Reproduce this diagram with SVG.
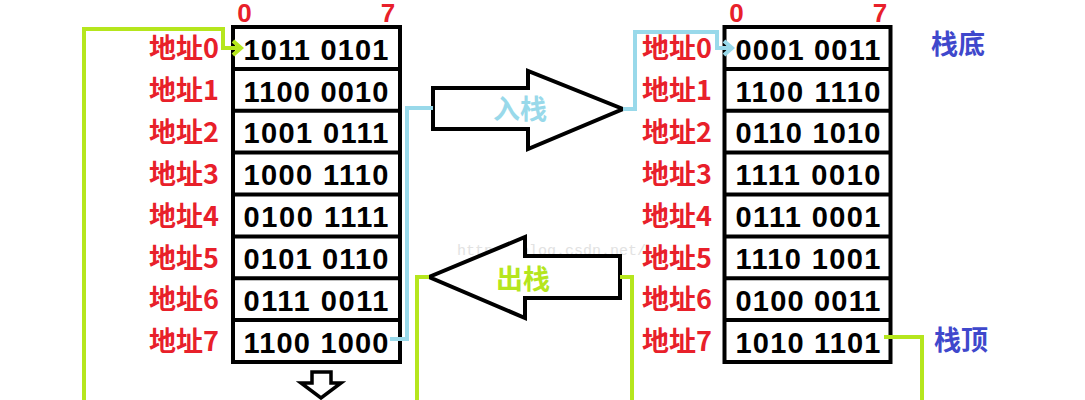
<svg xmlns="http://www.w3.org/2000/svg" width="1085" height="400" viewBox="0 0 1085 400">
<style>
.lbl{font-family:"Noto Sans CJK SC","Liberation Sans",sans-serif;font-weight:bold;font-size:27px;fill:#e8202a;text-anchor:end}
.hdr{font-family:"Liberation Sans",sans-serif;font-weight:bold;font-size:26px;fill:#e8202a;text-anchor:middle}
.val{font-family:"Liberation Sans",sans-serif;font-weight:bold;font-size:29px;fill:#000;text-anchor:middle}
.box{fill:#fff;stroke:#000;stroke-width:4}
.sep{stroke:#000;stroke-width:4}
.blue{font-family:"Noto Sans CJK SC",sans-serif;font-weight:bold;font-size:27px;fill:#3f48cc}
.arrow{fill:#fff;stroke:#000;stroke-width:4;stroke-linejoin:miter}
.cg{fill:none;stroke:#b5e61d;stroke-width:4}
.cb{fill:none;stroke:#99d9ea;stroke-width:4}
</style>
<defs>
<marker id="mg" markerWidth="13" markerHeight="18" refX="10" refY="9" orient="auto" markerUnits="userSpaceOnUse"><path d="M2,2 L10,9 L2,16" fill="none" stroke="#b5e61d" stroke-width="4"/></marker>
<marker id="mb" markerWidth="13" markerHeight="18" refX="10" refY="9" orient="auto" markerUnits="userSpaceOnUse"><path d="M2,2 L10,9 L2,16" fill="none" stroke="#99d9ea" stroke-width="4"/></marker>
</defs>
<rect width="1085" height="400" fill="#fff"/>
<text x="457" y="255" font-family="Liberation Mono,monospace" font-size="15" fill="#e2e2e2">http://blog.csdn.net/</text>
<g id="stack-left">
<rect class="box" x="233" y="27" width="167" height="335"/>
<path class="sep" d="M233,68.9 H400 M233,110.8 H400 M233,152.6 H400 M233,194.5 H400 M233,236.4 H400 M233,278.3 H400 M233,320.1 H400"/>
<text class="hdr" x="244.5" y="22">0</text>
<text class="hdr" x="388" y="22">7</text>
<text class="lbl" x="219" y="58">地址0</text>
<text class="lbl" x="219" y="100">地址1</text>
<text class="lbl" x="219" y="142">地址2</text>
<text class="lbl" x="219" y="184">地址3</text>
<text class="lbl" x="219" y="226">地址4</text>
<text class="lbl" x="219" y="268">地址5</text>
<text class="lbl" x="219" y="309">地址6</text>
<text class="lbl" x="219" y="351">地址7</text>
<text class="val" x="316" y="59.5" textLength="145" lengthAdjust="spacing">1011 0101</text>
<text class="val" x="316" y="101.5" textLength="145" lengthAdjust="spacing">1100 0010</text>
<text class="val" x="316" y="143.3" textLength="145" lengthAdjust="spacing">1001 0111</text>
<text class="val" x="316" y="185.2" textLength="145" lengthAdjust="spacing">1000 1110</text>
<text class="val" x="316" y="227" textLength="145" lengthAdjust="spacing">0100 1111</text>
<text class="val" x="316" y="268.9" textLength="145" lengthAdjust="spacing">0101 0110</text>
<text class="val" x="316" y="310.8" textLength="145" lengthAdjust="spacing">0111 0011</text>
<text class="val" x="316" y="352.6" textLength="145" lengthAdjust="spacing">1100 1000</text>
</g>
<g id="stack-right">
<rect class="box" x="724.5" y="27" width="166" height="335"/>
<path class="sep" d="M724.5,68.9 H890.5 M724.5,110.8 H890.5 M724.5,152.6 H890.5 M724.5,194.5 H890.5 M724.5,236.4 H890.5 M724.5,278.3 H890.5 M724.5,320.1 H890.5"/>
<text class="hdr" x="736.5" y="22">0</text>
<text class="hdr" x="880" y="22">7</text>
<text class="lbl" x="712" y="58">地址0</text>
<text class="lbl" x="712" y="100">地址1</text>
<text class="lbl" x="712" y="142">地址2</text>
<text class="lbl" x="712" y="184">地址3</text>
<text class="lbl" x="712" y="226">地址4</text>
<text class="lbl" x="712" y="268">地址5</text>
<text class="lbl" x="712" y="309">地址6</text>
<text class="lbl" x="712" y="351">地址7</text>
<text class="val" x="808" y="59.5" textLength="145" lengthAdjust="spacing">0001 0011</text>
<text class="val" x="808" y="101.5" textLength="145" lengthAdjust="spacing">1100 1110</text>
<text class="val" x="808" y="143.3" textLength="145" lengthAdjust="spacing">0110 1010</text>
<text class="val" x="808" y="185.2" textLength="145" lengthAdjust="spacing">1111 0010</text>
<text class="val" x="808" y="227" textLength="145" lengthAdjust="spacing">0111 0001</text>
<text class="val" x="808" y="268.9" textLength="145" lengthAdjust="spacing">1110 1001</text>
<text class="val" x="808" y="310.8" textLength="145" lengthAdjust="spacing">0100 0011</text>
<text class="val" x="808" y="352.6" textLength="145" lengthAdjust="spacing">1010 1101</text>
</g>
<g id="label-bottom-of-stack"><text class="blue" x="931" y="54">栈底</text></g>
<g id="label-top-of-stack"><text class="blue" x="934" y="350">栈顶</text></g>
<g id="push-arrow">
<polygon class="arrow" points="433,88 528,88 528,71 623,109 528,149 528,129 433,129"/>
<text x="520" y="119" font-family="Noto Sans CJK SC,sans-serif" font-weight="bold" font-size="27" fill="#99d9ea" text-anchor="middle">入栈</text>
</g>
<g id="pop-arrow">
<polygon class="arrow" points="620,256 525,256 525,237 429,277 525,318 525,298 620,298"/>
<text x="523" y="289" font-family="Noto Sans CJK SC,sans-serif" font-weight="bold" font-size="27" fill="#b5e61d" text-anchor="middle">出栈</text>
</g>
<g id="down-arrow">
<polygon points="312,372 331,372 331,383 341,383 321,398 301,383 312,383" fill="#fff" stroke="#000" stroke-width="3.5"/>
</g>
<g id="connectors">
<path class="cg" d="M84,400 V29 H223 V48 H241" marker-end="url(#mg)"/>
<path class="cb" d="M390,339 H407 V108 H433"/>
<path class="cb" d="M623,109 H635 V32 H717 V48 H732" marker-end="url(#mb)"/>
<path class="cg" d="M429,277 H417 V400"/>
<path class="cg" d="M620,277 H632 V400"/>
<path class="cg" d="M884,337 H922 V400"/>
</g>
</svg>
